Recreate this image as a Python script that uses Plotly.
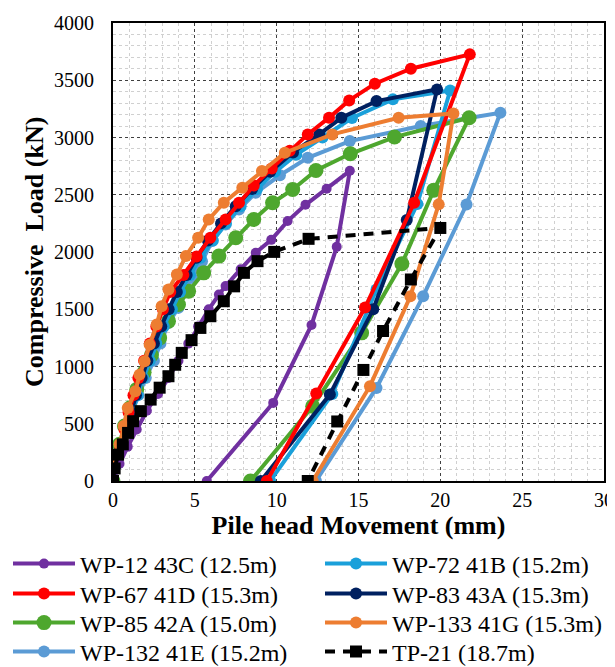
import plotly.graph_objects as go

# ---- data (mm, kN) ----
names = ["WP-12 43C (12.5m)", "WP-72 41B (15.2m)", "WP-67 41D (15.3m)", "WP-83 43A (15.3m)",
         "WP-85 42A (15.0m)", "WP-133 41G (15.3m)", "WP-132 41E (15.2m)", "TP-21 (18.7m)"]

wp12_x = [0, 0.4, 0.9, 1.45, 2.07, 2.75, 3.4, 4.0, 4.6, 5.2, 5.85, 6.47, 6.88, 7.8, 8.72, 9.67, 10.67, 11.76, 13.05, 14.47,
          13.67, 12.13, 9.79, 5.73]
wp12_y = [0, 150, 300, 450, 614, 760, 900, 1050, 1200, 1350, 1500, 1628, 1702, 1850, 1993, 2106, 2270, 2412, 2552, 2709,
          2045, 1363, 682, 0]

wp72_x = [0, 0.25, 0.55, 0.85, 1.15, 1.5, 1.85, 2.25, 2.65, 3.1, 3.6, 4.1, 4.7, 5.35, 6.1, 6.9, 7.8, 8.8, 9.9, 11.2, 12.8, 14.6, 17.1, 20.6,
          18.6, 16.1, 13.4, 9.6]
wp72_y = [0, 150, 300, 450, 600, 750, 900, 1050, 1200, 1350, 1500, 1650, 1800, 1950, 2100, 2250, 2400, 2550, 2700, 2850, 3000, 3170, 3333, 3410,
          2420, 1672, 760, 0]

wp67_x = [0, 0.2, 0.45, 0.7, 0.95, 1.25, 1.55, 1.9, 2.25, 2.65, 3.05, 3.5, 4.3, 5.1, 5.95, 6.88, 7.7, 8.6, 9.7, 10.8, 11.9, 13.2, 14.43, 16.0, 18.2, 21.8,
          18.4, 15.4, 12.42, 9.4]
wp67_y = [0, 150, 300, 450, 600, 750, 900, 1050, 1200, 1350, 1500, 1650, 1800, 1960, 2124, 2284, 2430, 2580, 2730, 2884, 3027, 3173, 3324, 3470, 3601, 3726,
          2430, 1515, 765, 0]

wp83_x = [0, 0.25, 0.5, 0.8, 1.1, 1.4, 1.75, 2.1, 2.5, 2.95, 3.4, 3.9, 4.5, 5.1, 5.8, 6.6, 7.5, 8.5, 9.6, 11.0, 12.6, 13.95, 16.1, 19.8,
          17.95, 15.9, 13.25, 9.03]
wp83_y = [0, 150, 300, 450, 600, 750, 900, 1050, 1200, 1350, 1500, 1650, 1800, 1950, 2100, 2250, 2400, 2550, 2700, 2870, 3027, 3172, 3318, 3420,
          2280, 1500, 755, 0]

wp85_x = [0, 0.15, 0.4, 0.7, 1.05, 1.45, 1.9, 2.35, 2.85, 3.39, 4.0, 4.62, 5.54, 6.47, 7.5, 8.6, 9.75, 10.98, 12.4, 14.5, 17.2, 21.76,
          19.6, 17.65, 15.19, 12.2, 8.4]
wp85_y = [0, 160, 320, 480, 640, 800, 950, 1100, 1250, 1396, 1541, 1658, 1818, 1964, 2124, 2284, 2430, 2546, 2712, 2858, 3004, 3172,
          2540, 1897, 1294, 653, 0]

wp133_x = [0, 0.2, 0.4, 0.65, 0.9, 1.37, 1.62, 1.93, 2.24, 2.67, 2.97, 3.39, 3.9, 4.45, 5.2, 5.85, 6.77, 7.9, 9.1, 10.5, 13.4, 17.45, 20.8,
           19.9, 18.17, 15.7, 12.2]
wp133_y = [0, 160, 320, 480, 638, 784, 929, 1046, 1191, 1366, 1527, 1672, 1803, 1964, 2124, 2284, 2430, 2561, 2707, 2867, 3027, 3172, 3210,
           2416, 1614, 828, 0]

wp132_x = [0, 0.25, 0.5, 0.8, 1.15, 1.55, 2.0, 2.5, 2.9, 3.39, 4.0, 4.3, 4.82, 5.44, 6.06, 6.88, 7.7, 8.72, 10.2, 11.9, 14.47, 18.8, 23.67,
           21.6, 18.95, 16.1, 12.4]
wp132_y = [0, 150, 300, 450, 600, 750, 900, 1050, 1200, 1381, 1512, 1643, 1774, 1920, 2095, 2240, 2371, 2517, 2670, 2823, 2969, 3100, 3216,
           2415, 1614, 813, 0]

tp21_x = [0, 0.1, 0.31, 0.6, 0.92, 1.23, 1.7, 2.3, 2.85, 3.39, 3.8, 4.2, 4.8, 5.34, 5.95, 6.77, 7.4, 8.0, 8.83, 9.85, 11.95, 20.0,
          18.2, 16.5, 15.3, 13.7, 11.9]
tp21_y = [0, 110, 230, 320, 420, 522, 610, 711, 815, 915, 1015, 1119, 1230, 1337, 1439, 1570, 1700, 1818, 1920, 2001, 2115, 2210,
          1760, 1310, 970, 520, 0]

x_ticks = [0, 5, 10, 15, 20, 25, 30]
y_ticks = [0, 500, 1000, 1500, 2000, 2500, 3000, 3500, 4000]

series = {
    names[0]: (wp12_x, wp12_y),
    names[1]: (wp72_x, wp72_y),
    names[2]: (wp67_x, wp67_y),
    names[3]: (wp83_x, wp83_y),
    names[4]: (wp85_x, wp85_y),
    names[5]: (wp133_x, wp133_y),
    names[6]: (wp132_x, wp132_y),
    names[7]: (tp21_x, tp21_y),
}

style = {
    names[0]: dict(color="#7030A0", msize=10, symbol="circle", dash="solid"),
    names[1]: dict(color="#1AA0DA", msize=12, symbol="circle", dash="solid"),
    names[2]: dict(color="#FF0000", msize=12, symbol="circle", dash="solid"),
    names[3]: dict(color="#002060", msize=12, symbol="circle", dash="solid"),
    names[4]: dict(color="#4EA72E", msize=15, symbol="circle", dash="solid"),
    names[5]: dict(color="#ED7D31", msize=12, symbol="circle", dash="solid"),
    names[6]: dict(color="#5B9BD5", msize=12, symbol="circle", dash="solid"),
    names[7]: dict(color="#000000", msize=12, symbol="square", dash="10px,8px"),
}

draw_order = [names[6], names[4], names[1], names[3], names[2], names[5], names[0], names[7]]

serif = "Liberation Serif"
W, H = 615, 667
L, R, T, B = 105, 19, 15, 194
# legend layout: two columns, four rows (pixel positions in the page)
col_left = [0, 312]
row_mid = [556, 586, 615, 644]

fig = go.Figure()
for nm in draw_order:
    xs, ys = series[nm]
    st = style[nm]
    k = names.index(nm)
    fig.add_trace(go.Scatter(
        x=xs, y=ys, name=nm, mode="lines+markers",
        line=dict(color=st["color"], width=4, dash=st["dash"]),
        marker=dict(color=st["color"], size=st["msize"], symbol=st["symbol"]),
        legend="legend" if k == 0 else f"legend{k + 1}",
    ))

leg_layout = {}
for k in range(len(names)):
    key = "legend" if k == 0 else f"legend{k + 1}"
    leg_layout[key] = dict(
        xref="container", yref="container",
        x=col_left[k % 2] / W, xanchor="left",
        y=1 - row_mid[k // 2] / H, yanchor="middle",
        itemwidth=62, bgcolor="rgba(0,0,0,0)", borderwidth=0,
        font=dict(family=serif, size=24, color="black"),
    )

plot_w = W - L - R
fig.update_layout(
    width=W, height=H,
    margin=dict(l=L, r=R, t=T, b=B, autoexpand=False),
    paper_bgcolor="white", plot_bgcolor="white",
    font=dict(family=serif, size=20, color="black"),
    showlegend=True,
    xaxis=dict(
        range=[0, 30], tickvals=x_ticks, ticks="", showline=True, linecolor="black", linewidth=2, mirror=True,
        showgrid=True, gridcolor="#404040", gridwidth=1, griddash="dot",
        minor=dict(dtick=1, showgrid=True, gridcolor="#d0d0d0", gridwidth=1),
        zeroline=False,
        title=dict(text="<b>Pile head Movement (mm)</b>", font=dict(family=serif, size=26), standoff=4),
        tickfont=dict(family=serif, size=20),
    ),
    yaxis=dict(
        range=[0, 4000], tickvals=y_ticks, ticks="outside", ticklen=13, tickcolor="rgba(0,0,0,0)",
        showline=True, linecolor="black", linewidth=2, mirror=True,
        showgrid=True, gridcolor="#404040", gridwidth=1, griddash="dot",
        minor=dict(dtick=100, showgrid=True, gridcolor="#d0d0d0", gridwidth=1),
        zeroline=False,
        tickfont=dict(family=serif, size=20),
    ),
    annotations=[dict(
        text="<b>Compressive\u00a0 Load (kN)</b>", textangle=-90,
        xref="paper", yref="paper", x=(26 - L) / plot_w, y=0.5,
        xanchor="center", yanchor="middle", showarrow=False,
        font=dict(family=serif, size=26, color="black"),
    )],
    **leg_layout,
)

fig.write_html("out.html")
